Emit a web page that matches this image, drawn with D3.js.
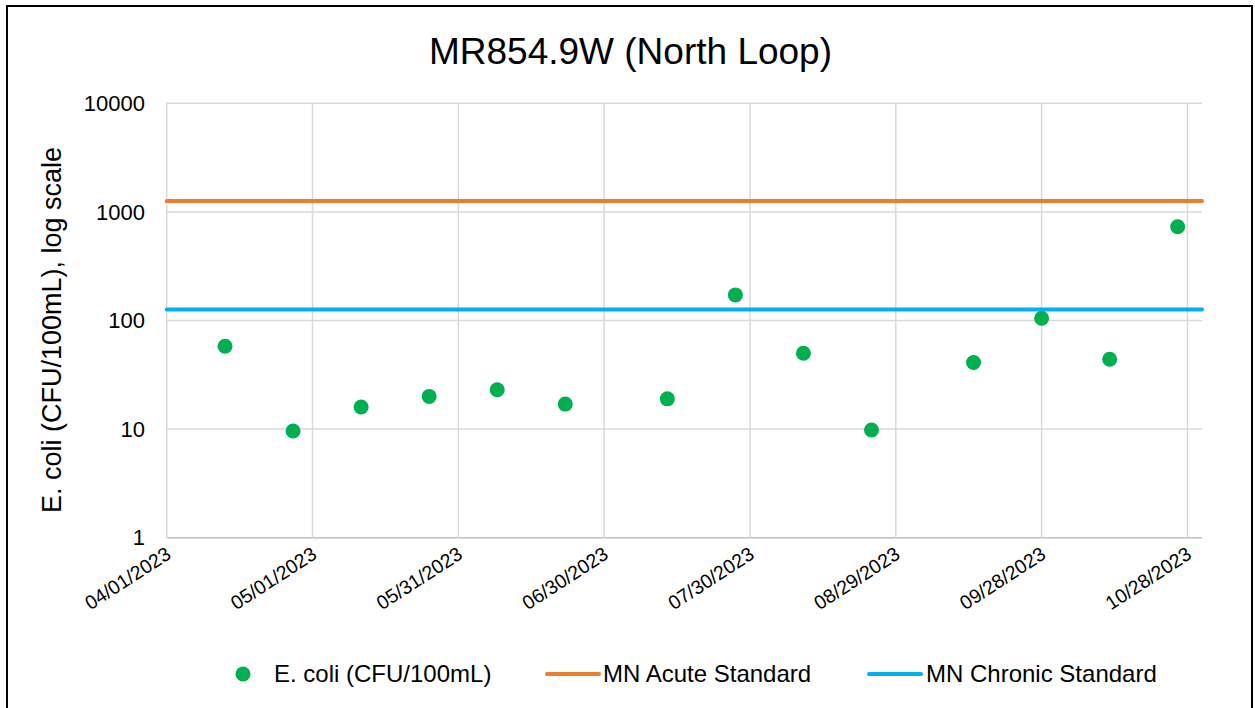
<!DOCTYPE html>
<html>
<head>
<meta charset="utf-8">
<script src="https://cdn.jsdelivr.net/npm/d3@7"></script>
<style>
  html, body { margin: 0; padding: 0; background: #fff; }
  svg { display: block; font-family: "Liberation Sans", Arial, sans-serif; }
</style>
</head>
<body>
<svg id="chart" width="1255" height="708"></svg>
<script>
// ---- data ----
const sampleDates = ["2023-04-13","2023-04-27","2023-05-11","2023-05-25","2023-06-08","2023-06-22",
  "2023-07-13","2023-07-27","2023-08-10","2023-08-24","2023-09-14","2023-09-28","2023-10-12","2023-10-26"];
const ecoliValues = [58, 9.6, 16, 20, 23, 17, 19, 172, 50, 9.8, 41, 105, 44, 730];
const acuteStandard = 1260;
const chronicStandard = 126;
const xTickDates = ["2023-04-01","2023-05-01","2023-05-31","2023-06-30","2023-07-30","2023-08-29","2023-09-28","2023-10-28"];
const xTickLabels = ["04/01/2023","05/01/2023","05/31/2023","06/30/2023","07/30/2023","08/29/2023","09/28/2023","10/28/2023"];
const yTicks = [1, 10, 100, 1000, 10000];
const yTickLabels = ["1","10","100","1000","10000"];
const xDomain = ["2023-04-01","2023-10-31"];
const seriesNames = ["E. coli (CFU/100mL)", "MN Acute Standard", "MN Chronic Standard"];

// ---- setup ----
const svg = d3.select("#chart");
const parse = d3.utcParse("%Y-%m-%d");
const pLeft = 166.7, pRight = 1202, pTop = 103.3, pBottom = 537.7;
const colors = { ecoli: "#00b050", acute: "#ed7d31", chronic: "#00b0f0" };

const x = d3.scaleUtc().domain(xDomain.map(parse)).range([pLeft, pRight]);
const y = d3.scaleLog().domain([1, 10000]).range([pBottom, pTop]);

// outer border
svg.append("rect").attr("x", 7).attr("y", 6).attr("width", 1245).attr("height", 740)
  .attr("fill", "none").attr("stroke", "#000").attr("stroke-width", 2);

// title
svg.append("text").attr("x", 630.5).attr("y", 64).attr("text-anchor", "middle")
  .attr("font-size", 37).attr("fill", "#000").text("MR854.9W (North Loop)");

// horizontal gridlines
svg.append("g").selectAll("line").data(yTicks).join("line")
  .attr("x1", pLeft).attr("x2", pRight)
  .attr("y1", d => y(d)).attr("y2", d => y(d))
  .attr("stroke", d => d === 1 ? "#bfbfbf" : "#d9d9d9").attr("stroke-width", 1.5);

// vertical gridlines
svg.append("g").selectAll("line").data(xTickDates).join("line")
  .attr("x1", d => x(parse(d))).attr("x2", d => x(parse(d)))
  .attr("y1", pTop).attr("y2", pBottom)
  .attr("stroke", "#d9d9d9").attr("stroke-width", 1.5);

// y tick labels
svg.append("g").selectAll("text").data(yTicks).join("text")
  .attr("x", 145).attr("y", d => y(d)).attr("dy", "0.35em")
  .attr("text-anchor", "end").attr("font-size", 22).attr("fill", "#000")
  .text((d, i) => yTickLabels[i]);

// x tick labels
svg.append("g").selectAll("text").data(xTickDates).join("text")
  .attr("transform", d => `translate(${x(parse(d)) - 2},${pBottom + 8}) rotate(-33)`)
  .attr("dy", "0.71em")
  .attr("text-anchor", "end").attr("font-size", 19.5).attr("fill", "#000")
  .text((d, i) => xTickLabels[i]);

// y axis title
svg.append("text").attr("transform", "translate(61,330) rotate(-90)")
  .attr("text-anchor", "middle").attr("font-size", 27).attr("fill", "#000")
  .text("E. coli (CFU/100mL), log scale");

// standards
const standards = [{v: acuteStandard, c: colors.acute}, {v: chronicStandard, c: colors.chronic}];
svg.append("g").selectAll("line").data(standards).join("line")
  .attr("x1", pLeft).attr("x2", pRight)
  .attr("y1", d => y(d.v)).attr("y2", d => y(d.v))
  .attr("stroke", d => d.c).attr("stroke-width", 4).attr("stroke-linecap", "round");

// points
svg.append("g").selectAll("circle").data(sampleDates).join("circle")
  .attr("cx", d => x(parse(d))).attr("cy", (d, i) => y(ecoliValues[i]))
  .attr("r", 7.5).attr("fill", colors.ecoli);

// legend
const ly = 674;
svg.append("circle").attr("cx", 243).attr("cy", ly).attr("r", 7.5).attr("fill", colors.ecoli);
svg.append("text").attr("x", 274).attr("y", ly).attr("dy", "0.35em").attr("font-size", 24).text(seriesNames[0]);
svg.append("line").attr("x1", 547).attr("x2", 599).attr("y1", ly).attr("y2", ly)
  .attr("stroke", colors.acute).attr("stroke-width", 4).attr("stroke-linecap", "round");
svg.append("text").attr("x", 603).attr("y", ly).attr("dy", "0.35em").attr("font-size", 24).text(seriesNames[1]);
svg.append("line").attr("x1", 869).attr("x2", 921).attr("y1", ly).attr("y2", ly)
  .attr("stroke", colors.chronic).attr("stroke-width", 4).attr("stroke-linecap", "round");
svg.append("text").attr("x", 926).attr("y", ly).attr("dy", "0.35em").attr("font-size", 24).text(seriesNames[2]);
</script>
</body>
</html>
